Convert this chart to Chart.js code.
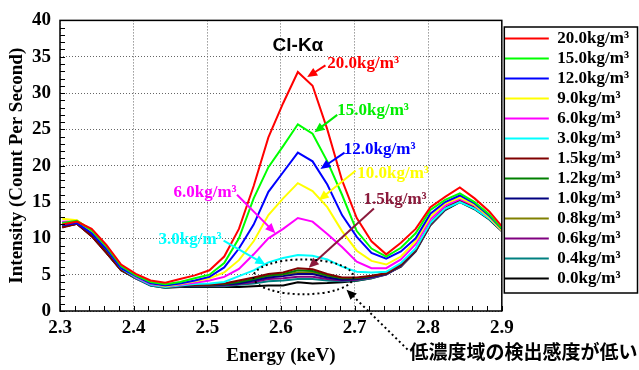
<!DOCTYPE html>
<html>
<head>
<meta charset="utf-8">
<script src="https://cdn.jsdelivr.net/npm/chart.js@4.4.0/dist/chart.umd.min.js"></script>
<style>
  html, body { margin: 0; padding: 0; background: #fff; }
</style>
</head>
<body>
<canvas id="lineChart" width="639" height="370"></canvas>
<script>
// energy channels (keV)
var energy = [2.303, 2.323, 2.343, 2.363, 2.383, 2.403, 2.423, 2.443, 2.463, 2.483,
  2.503, 2.523, 2.543, 2.563, 2.583, 2.603, 2.623, 2.643, 2.663, 2.683,
  2.703, 2.723, 2.743, 2.763, 2.783, 2.803, 2.823, 2.843, 2.863, 2.883, 2.903];

var xTicks = [2.3, 2.4, 2.5, 2.6, 2.7, 2.8, 2.9];
var yTicks = [0, 5, 10, 15, 20, 25, 30, 35, 40];

var legendLabels = ["20.0kg/m³", "15.0kg/m³", "12.0kg/m³", "9.0kg/m³", "6.0kg/m³", "3.0kg/m³",
  "1.5kg/m³", "1.2kg/m³", "1.0kg/m³", "0.8kg/m³", "0.6kg/m³", "0.4kg/m³", "0.0kg/m³"];

var cl200 = [11.9, 12.3, 11.3, 9.1, 6.4, 5.1, 4.2, 3.9, 4.4, 4.9,
  5.6, 7.5, 11.3, 17.2, 23.9, 28.6, 32.9, 31.0, 25.0, 18.0,
  12.8, 9.6, 7.8, 9.4, 11.3, 14.3, 15.7, 17.0, 15.5, 13.7, 11.3];
var cl150 = [12.1, 12.4, 11.1, 8.9, 6.2, 4.9, 4.0, 3.7, 4.0, 4.5,
  5.0, 6.6, 10.0, 15.5, 19.8, 22.7, 25.7, 24.4, 20.6, 16.0,
  11.0, 8.6, 7.5, 8.7, 10.7, 13.9, 15.3, 16.2, 15.0, 13.3, 11.0];
var cl120 = [11.8, 12.1, 10.7, 8.5, 5.9, 4.8, 3.8, 3.5, 3.8, 4.2,
  4.7, 6.0, 8.6, 11.9, 16.4, 19.1, 21.8, 20.6, 17.4, 13.2,
  10.2, 8.0, 7.2, 8.2, 10.0, 13.4, 15.0, 15.9, 14.8, 13.1, 11.0];
var cl90 = [12.7, 12.5, 11.0, 8.6, 6.0, 4.8, 3.8, 3.4, 3.7, 4.1,
  4.5, 5.3, 7.0, 9.6, 13.2, 15.5, 17.6, 16.5, 14.3, 11.0,
  8.3, 6.9, 6.4, 7.5, 9.6, 13.0, 14.8, 15.6, 14.6, 12.9, 10.8];
var cl60 = [12.3, 12.4, 11.1, 8.7, 6.1, 4.7, 3.7, 3.4, 3.6, 3.9,
  4.2, 4.7, 5.8, 7.8, 10.0, 11.3, 12.8, 12.3, 10.6, 8.8,
  6.8, 5.9, 5.9, 7.1, 9.2, 12.6, 14.5, 15.4, 14.5, 12.9, 10.8];
var cl30 = [12.2, 12.3, 10.9, 8.6, 5.9, 4.6, 3.6, 3.3, 3.5, 3.7,
  3.8, 4.0, 4.8, 5.6, 6.7, 7.3, 7.7, 7.6, 7.1, 6.1,
  5.4, 5.3, 5.4, 6.6, 8.6, 12.1, 14.1, 15.0, 14.1, 12.7, 10.8];
var cl15 = [11.5, 12.0, 10.3, 8.0, 5.6, 4.6, 3.7, 3.3, 3.5, 3.6,
  3.6, 3.8, 4.2, 4.6, 5.1, 5.3, 5.9, 5.75, 5.1, 4.6,
  4.6, 4.85, 5.2, 6.4, 8.4, 12.0, 14.1, 15.3, 14.3, 12.8, 10.9];
var cl12 = [11.7, 12.1, 10.5, 8.2, 5.8, 4.7, 3.7, 3.3, 3.5, 3.6,
  3.6, 3.7, 4.0, 4.4, 4.9, 5.1, 5.6, 5.5, 4.9, 4.5,
  4.5, 4.8, 5.2, 6.4, 8.5, 12.1, 14.2, 15.4, 14.4, 12.9, 11.0];
var cl10 = [11.6, 12.0, 10.4, 8.1, 5.7, 4.6, 3.6, 3.3, 3.4, 3.5,
  3.5, 3.6, 3.8, 4.2, 4.6, 4.8, 5.1, 5.1, 4.6, 4.3,
  4.4, 4.7, 5.1, 6.3, 8.4, 12.0, 14.1, 15.3, 14.3, 12.8, 10.9];
var cl08 = [11.6, 12.0, 10.4, 8.1, 5.7, 4.6, 3.6, 3.3, 3.4, 3.5,
  3.5, 3.6, 3.9, 4.3, 4.8, 5.0, 5.3, 5.3, 4.8, 4.4,
  4.5, 4.8, 5.1, 6.3, 8.4, 12.0, 14.1, 15.2, 14.3, 12.8, 10.9];
var cl06 = [11.7, 12.1, 10.4, 8.1, 5.7, 4.5, 3.6, 3.3, 3.4, 3.5,
  3.5, 3.5, 3.7, 4.0, 4.4, 4.5, 4.7, 4.7, 4.4, 4.2,
  4.3, 4.6, 5.0, 6.2, 8.3, 11.9, 14.0, 15.2, 14.2, 12.8, 10.9];
var cl04 = [11.8, 12.1, 10.5, 8.1, 5.6, 4.5, 3.5, 3.2, 3.4, 3.4,
  3.4, 3.4, 3.6, 3.8, 4.1, 4.2, 4.4, 4.4, 4.2, 4.1,
  4.2, 4.5, 5.0, 6.2, 8.3, 11.9, 14.0, 15.1, 14.1, 12.7, 10.8];
var cl00 = [11.6, 12.0, 10.3, 8.0, 5.6, 4.5, 3.5, 3.2, 3.3, 3.3,
  3.3, 3.3, 3.3, 3.4, 3.5, 3.5, 3.95, 3.8, 3.85, 3.95,
  4.15, 4.5, 5.1, 6.1, 8.2, 11.8, 13.9, 15.0, 14.0, 12.6, 10.7];

var series = [cl200, cl150, cl120, cl90, cl60, cl30, cl15, cl12, cl10, cl08, cl06, cl04, cl00];
var colors = ["#ff0000", "#00ff00", "#0000ff", "#ffff00", "#ff00ff", "#00ffff",
  "#800000", "#008000", "#000080", "#808000", "#800080", "#008080", "#000000"];

// callout labels with arrows, in data units (keV, cps)
var callouts = [
  { text: "20.0kg/m³", color: "#ff0000", x: 2.663, y: 34.0, from: [2.6605, 33.8], to: [2.6357, 32.2] },
  { text: "15.0kg/m³", color: "#00ee00", x: 2.6765, y: 27.6, from: [2.6765, 27.0], to: [2.6456, 24.6] },
  { text: "12.0kg/m³", color: "#0000ff", x: 2.6854, y: 22.25, from: [2.6864, 21.8], to: [2.6537, 19.55] },
  { text: "10.0kg/m³", color: "#ffff00", x: 2.7037, y: 18.86, from: [2.7014, 19.3], to: [2.6514, 15.25] },
  { text: "1.5kg/m³", color: "#8b1a3c", x: 2.7122, y: 15.4, from: [2.7263, 14.1], to: [2.6378, 5.97] },
  { text: "6.0kg/m³", color: "#ff00ff", x: 2.4541, y: 16.3, from: [2.5404, 16.0], to: [2.5925, 10.7] },
  { text: "3.0kg/m³", color: "#00ffff", x: 2.4337, y: 9.8, from: [2.5222, 9.7], to: [2.5789, 6.4] }
];

var serif = "'Liberation Serif', 'Times New Roman', serif";
Chart.defaults.font.family = serif;
Chart.defaults.color = "#000";

function arrow(ctx, x1, y1, x2, y2, color, dotted) {
  var ang = Math.atan2(y2 - y1, x2 - x1), len = 10, w = 4.5;
  ctx.save();
  ctx.strokeStyle = color;
  ctx.fillStyle = color;
  ctx.lineWidth = 2;
  if (dotted) ctx.setLineDash([2, 3]);
  ctx.beginPath();
  ctx.moveTo(x1, y1);
  ctx.lineTo(x2 - (len - 2) * Math.cos(ang), y2 - (len - 2) * Math.sin(ang));
  ctx.stroke();
  ctx.setLineDash([]);
  ctx.beginPath();
  ctx.moveTo(x2, y2);
  ctx.lineTo(x2 - len * Math.cos(ang) + w * Math.sin(ang), y2 - len * Math.sin(ang) - w * Math.cos(ang));
  ctx.lineTo(x2 - len * Math.cos(ang) - w * Math.sin(ang), y2 - len * Math.sin(ang) + w * Math.cos(ang));
  ctx.closePath();
  ctx.fill();
  ctx.restore();
}

var decor = {
  id: "decor",
  afterDatasetsDraw: function (chart) {
    var ctx = chart.ctx, a = chart.chartArea, xs = chart.scales.x, ys = chart.scales.y;
    ctx.save();
    // minor ticks, inward
    ctx.strokeStyle = "#000";
    ctx.lineWidth = 1;
    ctx.beginPath();
    for (var v = 0; v <= 40; v++) {
      var py = Math.round(ys.getPixelForValue(v)) + 0.5;
      ctx.moveTo(a.left, py);
      ctx.lineTo(a.left + 5, py);
    }
    for (var k = 0; k <= 30; k++) {
      var px = Math.round(xs.getPixelForValue((230 + 2 * k) / 100)) + 0.5;
      ctx.moveTo(px, a.bottom);
      ctx.lineTo(px, a.bottom - 5);
    }
    ctx.stroke();
    // frame
    ctx.lineWidth = 1.5;
    ctx.strokeRect(a.left, a.top, a.right - a.left, a.bottom - a.top);
    ctx.restore();
  },
  afterDraw: function (chart) {
    var ctx = chart.ctx, xs = chart.scales.x, ys = chart.scales.y;
    var X = function (v) { return xs.getPixelForValue(v); };
    var Y = function (v) { return ys.getPixelForValue(v); };
    ctx.save();

    // title inside plot
    ctx.font = "bold 19px 'Liberation Sans', Arial, sans-serif";
    ctx.fillStyle = "#000";
    ctx.textAlign = "center";
    ctx.textBaseline = "middle";
    ctx.fillText("Cl-Kα", X(2.6231), Y(36.5));

    // callouts
    ctx.font = "bold 17px " + serif;
    ctx.textAlign = "left";
    callouts.forEach(function (c) {
      arrow(ctx, X(c.from[0]), Y(c.from[1]), X(c.to[0]), Y(c.to[1]), c.color, false);
      ctx.fillStyle = c.color;
      ctx.fillText(c.text, X(c.x), Y(c.y));
    });

    // dotted ellipse around the low concentration curves
    var cx = X(2.6306), cy = Y(4.7);
    var rx = X(2.6306 + 0.068) - cx, ry = Y(4.7 - 2.4) - cy;
    ctx.strokeStyle = "#000";
    ctx.lineWidth = 2;
    ctx.setLineDash([2, 3]);
    ctx.beginPath();
    ctx.ellipse(cx, cy, rx, ry, 0, 0, Math.PI * 2);
    ctx.stroke();
    ctx.setLineDash([]);

    // leader to the note
    arrow(ctx, X(2.772), Y(-5.3), X(2.6891), Y(2.94), "#000", true);
    ctx.font = "bold 19px 'Noto Sans CJK JP', sans-serif";
    ctx.fillStyle = "#000";
    ctx.textAlign = "left";
    ctx.fillText("低濃度域の検出感度が低い", X(2.7745), Y(-5.6));

    // legend border
    var lg = chart.legend, hb = lg.legendHitBoxes;
    if (hb && hb.length) {
      var top = hb[0].top - 3, bot = hb[hb.length - 1].top + hb[hb.length - 1].height + 6;
      ctx.lineWidth = 1.5;
      ctx.strokeStyle = "#000";
      ctx.strokeRect(lg.left + 2.5, top, lg.right - lg.left - 4, bot - top);
    }
    ctx.restore();
  }
};

var ctx = document.getElementById("lineChart").getContext("2d");

var chartData = {
  datasets: series.map(function (s, i) {
    return {
      label: legendLabels[i],
      data: energy.map(function (e, j) { return { x: e, y: s[j] }; }),
      borderColor: colors[i],
      backgroundColor: colors[i],
      borderWidth: 2,
      pointRadius: 0,
      tension: 0,
      clip: 0
    };
  })
};

var chartOptions = {
  responsive: false,
  animation: false,
  devicePixelRatio: 1,
  layout: { padding: { top: 16, right: 0, bottom: 0, left: 0 } },
  scales: {
    x: {
      type: "linear",
      min: 2.3,
      max: 2.9,
      afterBuildTicks: function (s) { s.ticks = xTicks.map(function (v) { return { value: v }; }); },
      afterFit: function (s) { s.height = 59; },
      ticks: {
        padding: 6,
        autoSkip: false,
        maxRotation: 0,
        color: "#000",
        font: { size: 19, weight: "bold" },
        callback: function (v) { return Number(v).toFixed(1); }
      },
      grid: { color: "#666", lineWidth: 1, drawTicks: false },
      border: { display: false, dash: [1, 2] },
      title: {
        display: true,
        text: "Energy (keV)",
        color: "#000",
        font: { size: 19, weight: "bold" },
        padding: { top: 0, bottom: 3 }
      }
    },
    y: {
      min: 0,
      max: 40,
      afterBuildTicks: function (s) { s.ticks = yTicks.map(function (v) { return { value: v }; }); },
      afterFit: function (s) { s.width = 60; },
      ticks: {
        padding: 9,
        color: "#000",
        font: { size: 19, weight: "bold" }
      },
      grid: { color: "#666", lineWidth: 1, drawTicks: false },
      border: { display: false, dash: [1, 2] },
      title: {
        display: true,
        text: "Intensity (Count Per Second)",
        color: "#000",
        font: { size: 19, weight: "bold" },
        padding: { top: 6, bottom: 0 }
      }
    }
  },
  plugins: {
    tooltip: { enabled: false },
    legend: {
      position: "right",
      align: "start",
      title: { display: true, text: " ", font: { size: 11, lineHeight: 1 }, padding: 0 },
      labels: {
        boxWidth: 44,
        boxHeight: 2,
        padding: 3,
        color: "#000",
        font: { size: 17, weight: "bold" },
        generateLabels: function (chart) {
          return Chart.defaults.plugins.legend.labels.generateLabels(chart).map(function (l) {
            l.lineWidth = 0;
            l.fillStyle = l.strokeStyle;
            return l;
          });
        }
      }
    }
  }
};

var myChart = new Chart(ctx, {
  type: "line",
  data: chartData,
  options: chartOptions,
  plugins: [decor]
});
</script>
</body>
</html>
